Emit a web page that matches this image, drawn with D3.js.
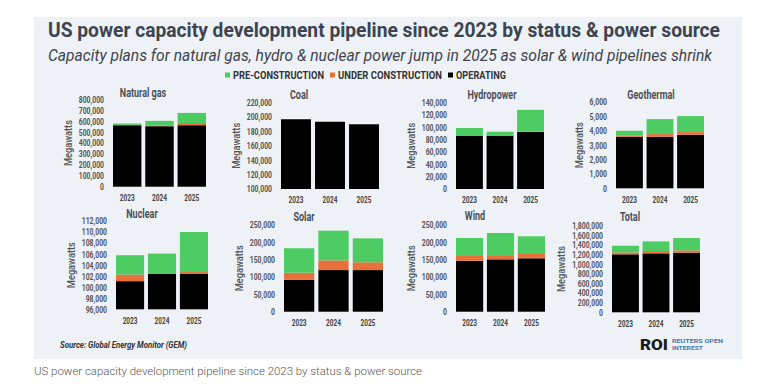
<!DOCTYPE html>
<html lang="en">
<head>
  <meta charset="utf-8">
  <title>US power capacity pipeline</title>
  <script src="https://d3js.org/d3.v7.min.js" charset="utf-8"></script>
  <style>
  body{ margin:0; background:#fff; }
  text{ font-family: Roboto, "Noto Sans", sans-serif; }
  </style>
</head>
<body>
  <script>
  // values in megawatts
  var years = ["2023", "2024", "2025"];
  var sources = ["Natural gas", "Coal", "Hydropower", "Geothermal", "Nuclear", "Solar", "Wind", "Total"];
  var statuses = ["PRE-CONSTRUCTION", "UNDER CONSTRUCTION", "OPERATING"];

  var operating = [
    [564000, 555000, 564000],
    [197000, 193500, 190000],
    [86500, 86500, 92500],
    [3580, 3580, 3720],
    [101100, 102400, 102400],
    [92000, 120000, 120000],
    [147000, 151000, 154000],
    [1205000, 1225000, 1238000]
  ];
  var underConstruction = [
    [4000, 8000, 20000],
    [0, 0, 0],
    [400, 400, 400],
    [70, 190, 190],
    [1200, 0, 350],
    [20500, 28000, 22500],
    [13600, 9600, 15000],
    [41000, 48000, 49000]
  ];
  var preConstruction = [
    [12000, 41000, 93000],
    [0, 0, 0],
    [12000, 6000, 35500],
    [350, 1040, 1110],
    [3500, 3700, 7250],
    [70500, 85600, 69000],
    [52000, 66400, 48500],
    [137000, 201000, 256000]
  ];

  // y axis: min, max, step
  var axisMin = [0, 100000, 0, 0, 96000, 0, 0, 0];
  var axisMax = [800000, 220000, 140000, 6000, 112000, 250000, 250000, 1800000];
  var axisStep = [100000, 20000, 20000, 1000, 2000, 50000, 50000, 200000];

  var colors = {pre: "#4ccc62", uc: "#e8703a", op: "#000000"};

  // panel placement: bar extent, y range, title position
  var layout = [
    {x0: 113, x1: 206, yb: 186.7, yt: 99.5, tx: 143, ty: 92},
    {x0: 281, x1: 379, yb: 189, yt: 102.7, tx: 299, ty: 94},
    {x0: 456, x1: 544, yb: 189, yt: 102.7, tx: 492, ty: 94},
    {x0: 616, x1: 704, yb: 188.3, yt: 102, tx: 651, ty: 94},
    {x0: 116, x1: 208, yb: 309.3, yt: 221, tx: 142, ty: 213.5},
    {x0: 284, x1: 383, yb: 311.7, yt: 225, tx: 304, ty: 216.7},
    {x0: 456, x1: 545, yb: 311.7, yt: 225, tx: 475, ty: 215.7},
    {x0: 612, x1: 700, yb: 312.3, yt: 225.7, tx: 630, ty: 216.7}
  ];

  var width = 758;
  var height = 386;

  var svg = d3.select("body")
    .append("svg")
    .attr("width", width)
    .attr("height", height);

  // squeeze text horizontally to mimic the condensed typeface
  function squeeze(sel, k){
    sel.each(function(){
      var w = this.getComputedTextLength();
      d3.select(this).attr("textLength", w * k).attr("lengthAdjust", "spacingAndGlyphs");
    });
  }
  function fitTo(sel, w){
    sel.attr("textLength", w).attr("lengthAdjust", "spacingAndGlyphs");
  }

  svg.append("rect")
    .attr("x", 34).attr("y", 17)
    .attr("width", 708).attr("height", 342)
    .attr("fill", "#eef2f7");

  svg.append("text")
    .attr("x", 48).attr("y", 37)
    .attr("font-size", 19.5).attr("font-weight", 700)
    .attr("fill", "#3d4450")
    .text("US power capacity development pipeline since 2023 by status & power source")
    .call(fitTo, 672);

  svg.append("text")
    .attr("x", 48).attr("y", 61)
    .attr("font-size", 16).attr("font-style", "italic")
    .attr("fill", "#3d4450")
    .text("Capacity plans for natural gas, hydro & nuclear power jump in 2025 as solar & wind pipelines shrink")
    .call(fitTo, 664);

  // legend
  var legColors = [colors.pre, colors.uc, colors.op];
  var legWidths = [91, 104, 50];
  var legX = 225;
  var legend = svg.append("g");
  statuses.forEach(function(s, i){
    legend.append("rect")
      .attr("x", legX).attr("y", 72.5)
      .attr("width", 5).attr("height", 5)
      .attr("fill", legColors[i]);
    legend.append("text")
      .attr("x", legX + 8).attr("y", 79)
      .attr("font-size", 10).attr("font-weight", 700)
      .attr("fill", "#333")
      .text(s)
      .call(fitTo, legWidths[i]);
    legX += 8 + legWidths[i] + 6;
  });

  var fmt = d3.format(",");

  sources.forEach(function(name, i){
    var L = layout[i];
    var g = svg.append("g");

    var rows = years.map(function(yr, j){
      return {year: yr, op: operating[i][j], uc: underConstruction[i][j], pre: preConstruction[i][j]};
    });
    var stacked = d3.stack().keys(["op", "uc", "pre"])(rows);

    var x = d3.scaleBand()
      .domain(years)
      .range([L.x0, L.x1])
      .paddingInner(0.12)
      .paddingOuter(0);

    var y = d3.scaleLinear()
      .domain([axisMin[i], axisMax[i]])
      .range([L.yb, L.yt])
      .clamp(true);

    g.selectAll("g.layer")
      .data(stacked)
      .enter()
      .append("g")
      .attr("class", "layer")
      .attr("fill", function(d){ return colors[d.key]; })
      .selectAll("rect")
      .data(function(d){ return d; })
      .enter()
      .append("rect")
      .attr("x", function(d){ return x(d.data.year); })
      .attr("width", x.bandwidth())
      .attr("y", function(d){ return y(d[1]); })
      .attr("height", function(d){ return Math.max(0, y(d[0]) - y(d[1])); });

    var yAxis = g.append("g")
      .attr("transform", "translate(" + L.x0 + ",0)")
      .call(d3.axisLeft(y)
        .tickValues(d3.range(axisMin[i], axisMax[i] + axisStep[i] / 2, axisStep[i]))
        .tickFormat(fmt)
        .tickSize(0)
        .tickPadding(9));
    yAxis.select(".domain").remove();
    yAxis.selectAll("text")
      .attr("font-family", "Roboto, sans-serif")
      .attr("font-size", 9).attr("font-weight", 700)
      .attr("fill", "#555")
      .call(squeeze, 0.76);

    var xAxis = g.append("g")
      .attr("transform", "translate(0," + L.yb + ")")
      .call(d3.axisBottom(x).tickSize(0).tickPadding(8));
    xAxis.select(".domain").remove();
    xAxis.selectAll("text")
      .attr("font-family", "Roboto, sans-serif")
      .attr("font-size", 9).attr("font-weight", 700)
      .attr("fill", "#444")
      .call(squeeze, 0.72);

    var bb = yAxis.node().getBBox();
    g.append("text")
      .attr("transform", "translate(" + (L.x0 + bb.x - 7) + "," + ((L.yb + L.yt) / 2) + ") rotate(-90)")
      .attr("text-anchor", "middle")
      .attr("font-size", 10.5).attr("font-weight", 500)
      .attr("fill", "#555")
      .text("Megawatts")
      .call(squeeze, 0.88);

    g.append("text")
      .attr("x", L.tx).attr("y", L.ty + 4.5)
      .attr("text-anchor", "middle")
      .attr("font-size", 12.5).attr("font-weight", 700)
      .attr("fill", "#4a4f58")
      .text(name)
      .call(squeeze, 0.72);
  });

  // footer
  svg.append("text")
    .attr("x", 60).attr("y", 348)
    .attr("font-size", 9).attr("font-weight", 700).attr("font-style", "italic")
    .attr("fill", "#333")
    .text("Source: Global Energy Monitor (GEM)")
    .call(fitTo, 127);

  svg.append("text")
    .attr("x", 640).attr("y", 349.5)
    .attr("font-size", 15).attr("font-weight", 900)
    .attr("fill", "#1a1a1a")
    .text("ROI")
    .call(fitTo, 28);
  svg.append("text")
    .attr("x", 672).attr("y", 342.5)
    .attr("font-size", 5.5).attr("font-weight", 700)
    .attr("fill", "#4a78a8")
    .text("REUTERS OPEN")
    .call(fitTo, 51);
  svg.append("text")
    .attr("x", 672).attr("y", 349.5)
    .attr("font-size", 5.5).attr("font-weight", 700)
    .attr("fill", "#4a78a8")
    .text("INTEREST")
    .call(fitTo, 31);

  svg.append("text")
    .attr("x", 34).attr("y", 375)
    .attr("font-size", 11.5).attr("font-weight", 300)
    .attr("fill", "#555")
    .text("US power capacity development pipeline since 2023 by status & power source")
    .call(fitTo, 388);
  </script>
</body>
</html>
